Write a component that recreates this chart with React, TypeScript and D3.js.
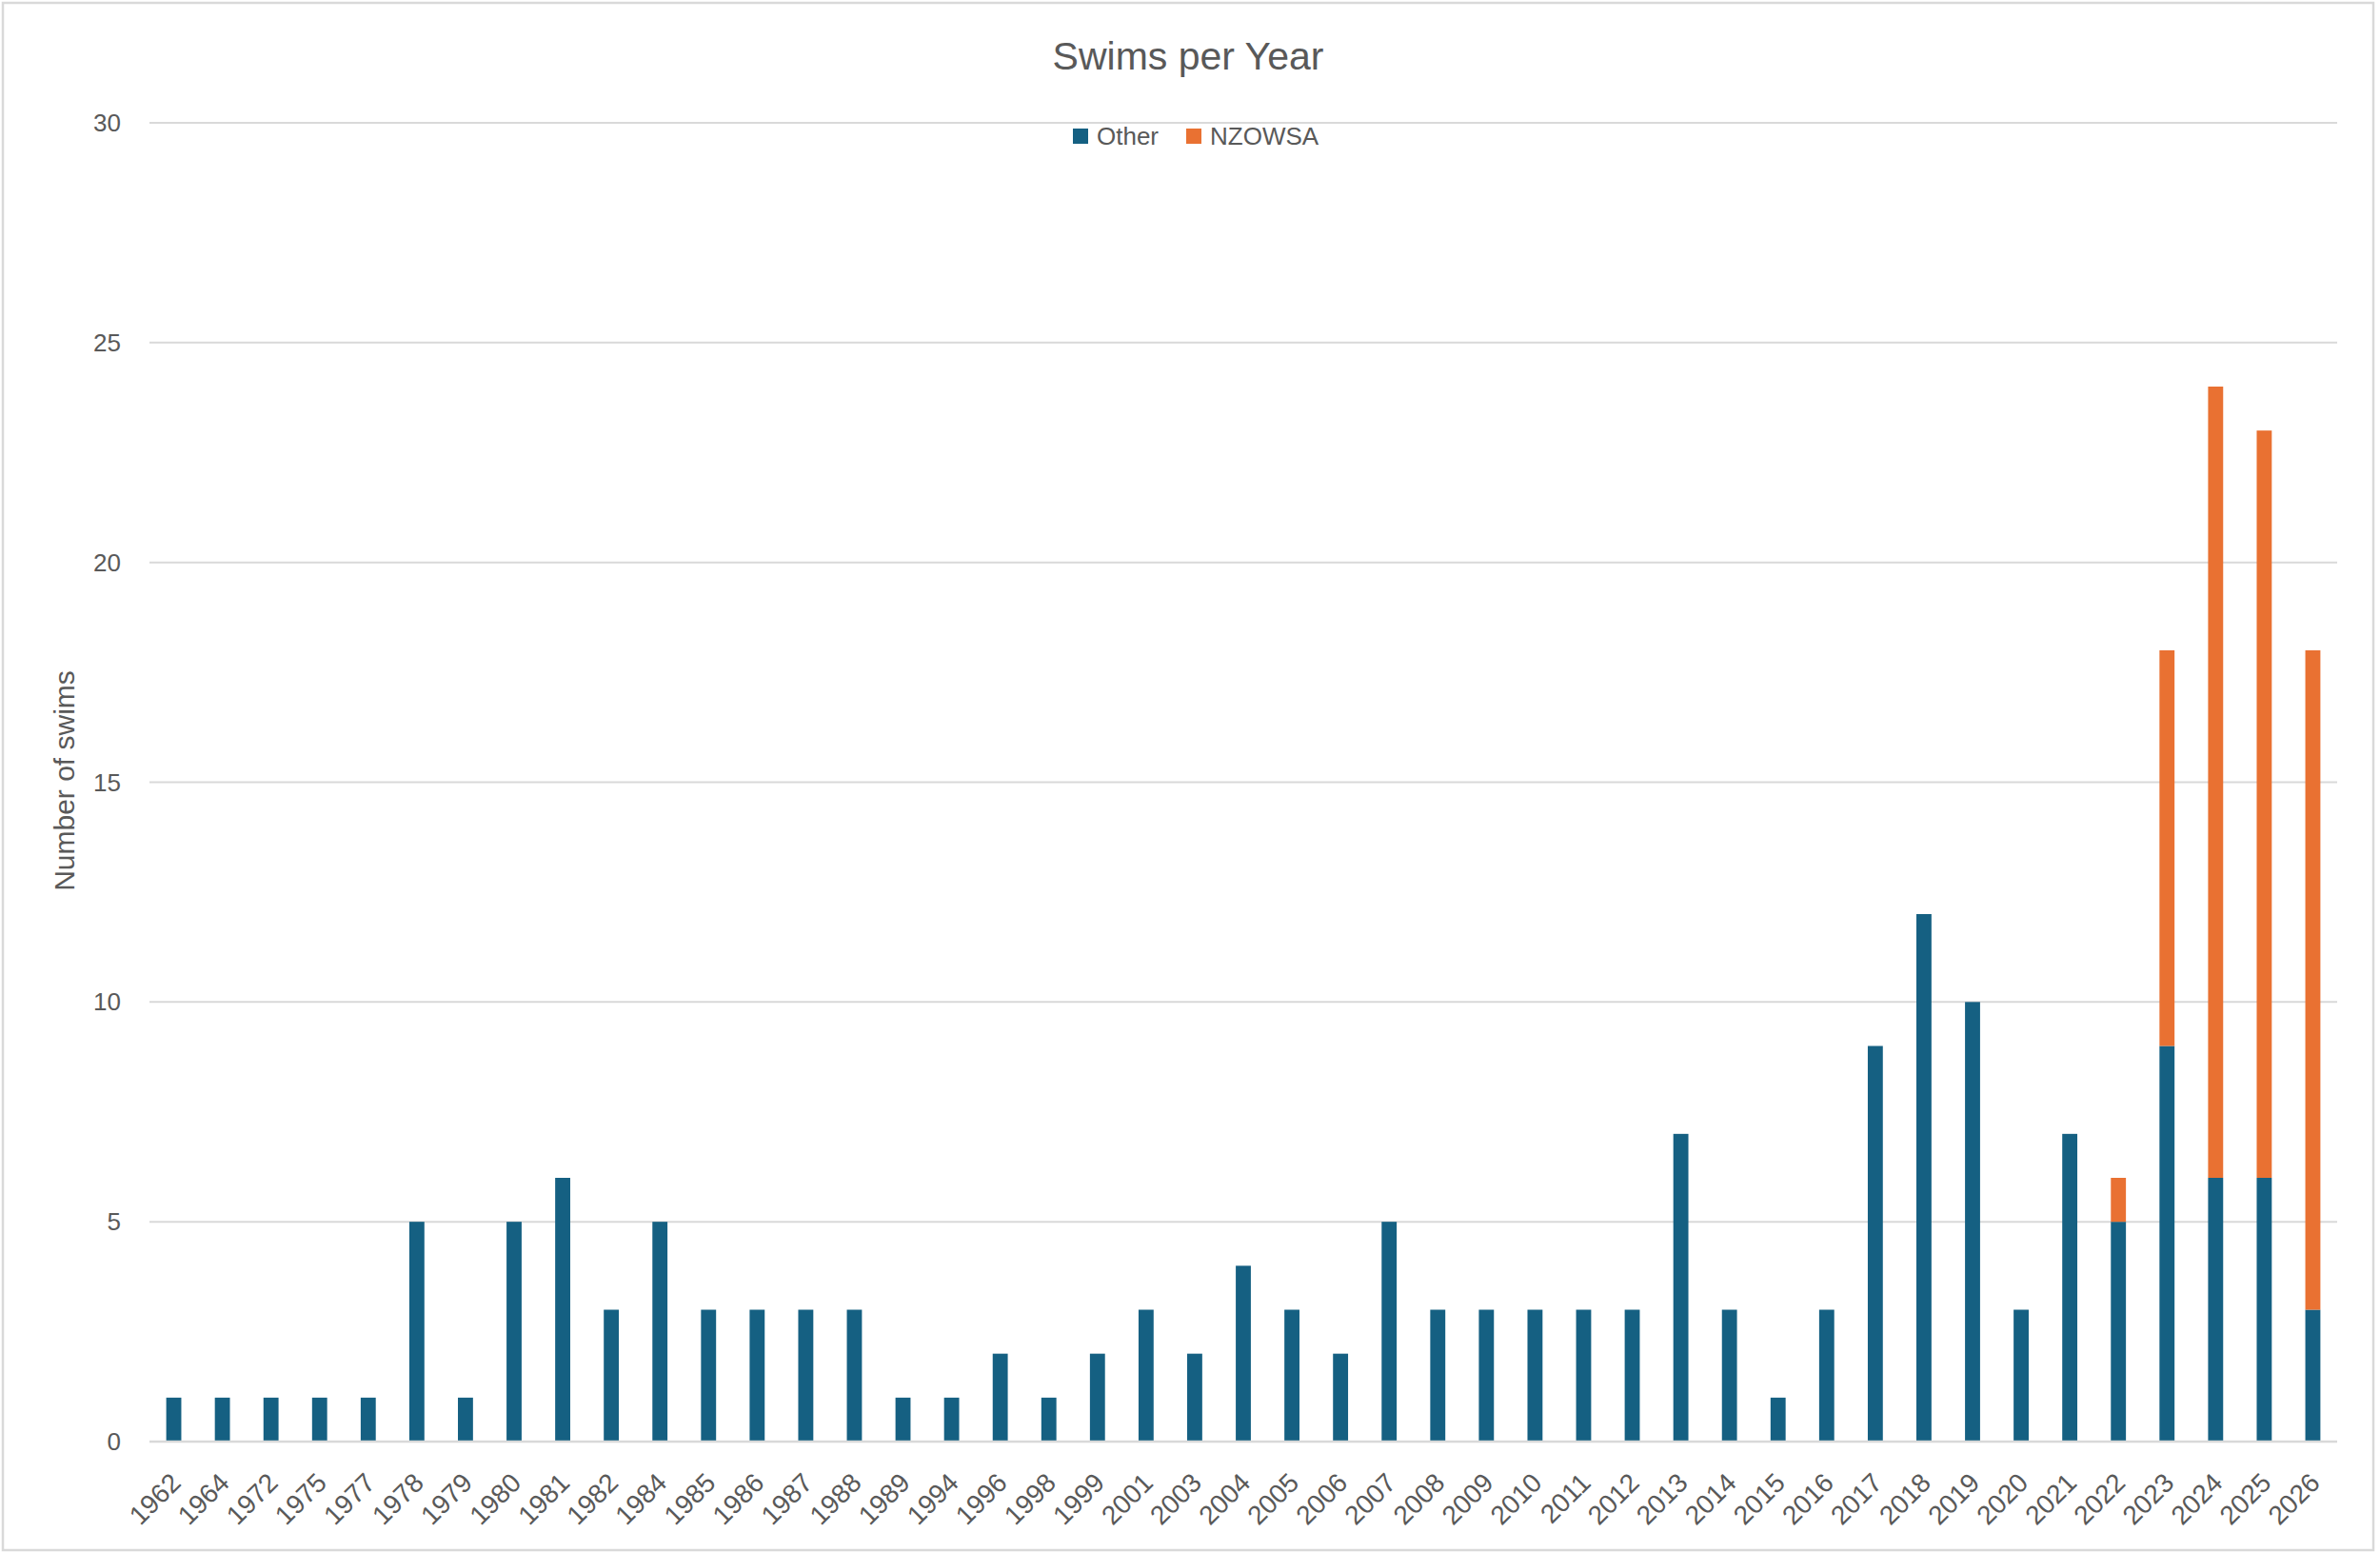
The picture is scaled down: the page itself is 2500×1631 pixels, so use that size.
import React from "react";
import * as d3 from "d3";

const years = [
  "1962","1964","1972","1975","1977","1978","1979","1980","1981","1982",
  "1984","1985","1986","1987","1988","1989","1994","1996","1998","1999",
  "2001","2003","2004","2005","2006","2007","2008","2009","2010","2011",
  "2012","2013","2014","2015","2016","2017","2018","2019","2020","2021",
  "2022","2023","2024","2025","2026",
];
const other = [
  1,1,1,1,1,5,1,5,6,3,
  5,3,3,3,3,1,1,2,1,2,
  3,2,4,3,2,5,3,3,3,3,
  3,7,3,1,3,9,12,10,3,7,
  5,9,6,6,3,
];
const nzowsa = [
  0,0,0,0,0,0,0,0,0,0,
  0,0,0,0,0,0,0,0,0,0,
  0,0,0,0,0,0,0,0,0,0,
  0,0,0,0,0,0,0,0,0,0,
  1,9,18,17,15,
];
const seriesNames = ["Other", "NZOWSA"];
const seriesColors = ["#156082", "#E97132"];
const yTicks = [0, 5, 10, 15, 20, 25, 30];

const W = 2500;
const H = 1631;
const FONT = "'Liberation Sans', Arial, sans-serif";
const TEXT = "#595959";
const GRID = "#d9d9d9";

export default function App() {
  const left = 157, right = 2455, top = 129, bottom = 1514;
  const x = d3.scaleBand<string>().domain(years).range([left, right]).paddingInner(0.69).paddingOuter(0.345);
  const y = d3.scaleLinear().domain([0, 30]).range([bottom, top]);

  const rows = years.map((yr, i) => ({ year: yr, Other: other[i], NZOWSA: nzowsa[i] }));
  const stacked = d3.stack<any>().keys(seriesNames)(rows);

  return (
    <div style={{ position: "absolute", left: 0, top: 0 }}>
      <svg width={W} height={H} style={{ display: "block", background: "#fff" }}>
        <rect x={3} y={3} width={2490} height={1625} fill="#fff" stroke={GRID} strokeWidth={2.5} />
        <text x={1248} y={73} textAnchor="middle" fontFamily={FONT} fontSize={41} fill={TEXT}>
          Swims per Year
        </text>
        {/* legend */}
        <g fontFamily={FONT} fontSize={26} fill={TEXT}>
          <rect x={1127} y={135} width={16} height={16} fill={seriesColors[0]} />
          <text x={1152} y={143} dy="0.35em">{seriesNames[0]}</text>
          <rect x={1246} y={135} width={16} height={16} fill={seriesColors[1]} />
          <text x={1271} y={143} dy="0.35em">{seriesNames[1]}</text>
        </g>
        {/* gridlines */}
        {yTicks.map((t) => (
          <g key={t}>
            <line x1={left} x2={right} y1={y(t)} y2={y(t)} stroke={GRID} strokeWidth={2} />
            <text x={127} y={y(t)} dy="0.35em" textAnchor="end" fontFamily={FONT} fontSize={26} fill={TEXT}>
              {t}
            </text>
          </g>
        ))}
        {/* bars */}
        {stacked.map((s, si) => (
          <g key={s.key} fill={seriesColors[si]}>
            {s.map((d, i) =>
              d[1] - d[0] > 0 ? (
                <rect
                  key={i}
                  x={x(years[i])!}
                  width={x.bandwidth()}
                  y={y(d[1])}
                  height={y(d[0]) - y(d[1])}
                />
              ) : null
            )}
          </g>
        ))}
        <line x1={left} x2={right} y1={bottom} y2={bottom} stroke={GRID} strokeWidth={2.5} />
        {/* x labels */}
        {years.map((yr) => {
          const cx = x(yr)! + x.bandwidth() / 2 + 2;
          return (
            <text
              key={yr}
              transform={`translate(${cx},1552) rotate(-45)`}
              textAnchor="end"
              dy="0.35em"
              fontFamily={FONT}
              fontSize={28}
              fill={TEXT}
            >
              {yr}
            </text>
          );
        })}
        <text
          transform="translate(67,820) rotate(-90)"
          textAnchor="middle"
          dy="0.35em"
          fontFamily={FONT}
          fontSize={30}
          fill={TEXT}
        >
          Number of swims
        </text>
      </svg>
    </div>
  );
}
